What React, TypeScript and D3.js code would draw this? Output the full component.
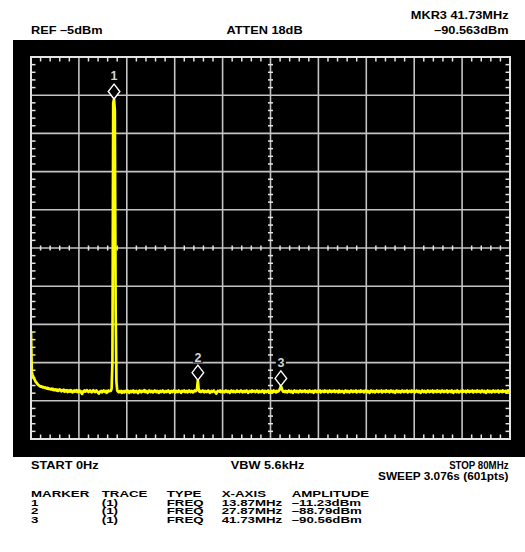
import * as d3 from 'd3';

// sweep settings
const START_MHZ = 0;
const STOP_MHZ = 80;
const REF_DBM = -5;
const DB_PER_DIV = 10;
const DIVS = 10;

// 601-point trace (dBm)
const TRACE_DBM = [
  -77.0, -87.5, -88.2, -88.8, -89.3, -89.6, -90.1, -90.3, -90.6, -90.8, -91.0, -91.1, -91.3, -91.2, -91.4, -91.5, -91.4, -91.6, -91.5, -91.7,
  -91.8, -91.6, -91.9, -91.8, -92.0, -92.0, -91.8, -92.1, -91.9, -92.2, -92.2, -92.0, -92.3, -92.1, -92.4, -92.2, -92.0, -92.3, -92.5, -92.2,
  -92.4, -92.1, -92.6, -92.3, -92.5, -92.2, -92.7, -92.4, -92.3, -92.6, -92.2, -92.5, -92.8, -92.4, -92.3, -92.6, -92.5, -92.2, -92.7, -92.4,
  -92.3, -92.6, -92.4, -92.9, -93.2, -92.7, -92.4, -92.3, -92.6, -92.5, -92.2, -92.4, -92.7, -92.5, -92.3, -92.6, -92.8, -92.4, -92.2, -92.5,
  -92.7, -92.4, -92.3, -92.6, -92.9, -93.1, -92.7, -92.5, -92.4, -92.8, -92.6, -92.3, -92.5, -92.7, -92.4, -92.9, -92.6, -92.3, -92.5, -92.4,
  -92.4, -91.8, -84.5, -17.0, -16.0, -19.0, -71.0, -90.0, -92.3, -92.6, -92.8, -92.5, -92.7, -92.4, -92.9, -92.6, -92.5, -92.8, -92.4, -92.6,
  -92.7, -92.3, -92.6, -92.9, -92.5, -92.4, -92.7, -92.6, -92.3, -92.8, -92.5, -92.7, -92.4, -92.6, -93.0, -92.5, -92.3, -92.6, -92.8, -92.4,
  -92.6, -92.5, -92.2, -92.7, -92.4, -92.6, -92.9, -92.5, -92.3, -92.6, -92.7, -92.4, -92.5, -92.8, -92.6, -92.3, -92.5, -92.7, -92.4, -92.6,
  -92.9, -92.5, -92.4, -92.7, -92.6, -92.3, -92.5, -92.8, -92.6, -92.4, -92.7, -92.5, -92.3, -92.6, -92.9, -92.5, -92.4, -92.7, -92.6, -92.3,
  -92.5, -92.8, -92.4, -92.6, -92.7, -92.3, -92.5, -92.6, -92.9, -92.4, -92.6, -92.5, -92.3, -92.7, -92.6, -92.4, -92.8, -92.5, -92.3, -92.6,
  -92.7, -92.4, -92.5, -92.8, -92.6, -92.3, -92.5, -92.4, -91.8, -89.6, -92.0, -92.6, -92.4, -92.7, -92.5, -92.3, -92.6, -92.8, -92.4, -92.5,
  -92.7, -92.6, -92.3, -92.5, -92.9, -92.6, -92.4, -92.7, -92.5, -92.3, -92.6, -92.8, -93.1, -92.7, -92.4, -92.5, -92.6, -92.3, -92.7, -92.5,
  -92.4, -92.6, -92.8, -92.5, -92.3, -92.6, -92.7, -92.4, -92.5, -92.9, -92.6, -92.3, -92.5, -92.7, -92.4, -92.6, -92.8, -92.5, -92.3, -92.6,
  -92.5, -92.7, -92.4, -92.3, -92.6, -92.8, -92.5, -92.4, -92.7, -92.6, -92.3, -92.5, -92.9, -92.6, -92.4, -92.5, -92.7, -92.3, -92.6, -92.5,
  -92.4, -92.7, -92.6, -92.3, -92.5, -92.8, -92.4, -92.6, -92.7, -92.5, -92.3, -92.6, -92.9, -92.4, -92.5, -92.7, -92.6, -92.3, -92.5, -92.8,
  -92.6, -92.4, -92.5, -92.7, -92.3, -92.6, -92.5, -92.8, -92.4, -92.6, -92.5, -92.2, -91.8, -91.1, -91.7, -92.3, -92.6, -92.5, -92.7, -92.4,
  -92.5, -92.8, -92.6, -92.3, -92.5, -92.7, -92.4, -92.6, -92.9, -92.5, -92.3, -92.6, -92.7, -92.4, -92.5, -92.8, -92.6, -92.3, -92.5, -92.7,
  -92.4, -92.6, -92.5, -92.3, -92.7, -92.6, -92.4, -92.8, -92.5, -92.3, -92.6, -92.7, -92.5, -92.4, -92.9, -92.6, -92.3, -92.5, -92.7, -92.4,
  -92.6, -92.5, -92.3, -92.8, -92.6, -92.4, -92.5, -92.7, -92.3, -92.6, -92.5, -92.4, -92.8, -92.6, -92.3, -92.5, -92.7, -92.4, -92.6, -92.5,
  -92.3, -92.7, -92.6, -92.4, -92.5, -92.8, -92.3, -92.6, -92.7, -92.5, -92.4, -92.6, -92.9, -92.5, -92.3, -92.6, -92.7, -92.4, -92.5, -92.8,
  -92.6, -92.3, -92.5, -92.7, -92.4, -92.6, -92.5, -92.3, -92.8, -92.6, -92.4, -92.5, -92.7, -92.3, -92.6, -92.5, -92.4, -92.8, -92.6, -92.3,
  -92.5, -92.7, -92.4, -92.6, -92.9, -92.5, -92.3, -92.6, -92.7, -92.4, -92.5, -92.8, -92.6, -92.3, -92.5, -92.7, -92.4, -92.6, -92.5, -92.3,
  -92.8, -92.6, -92.4, -92.5, -92.7, -92.3, -92.6, -92.5, -92.4, -92.8, -92.6, -92.3, -92.5, -92.7, -92.4, -92.6, -92.9, -92.5, -92.3, -92.6,
  -92.7, -92.4, -92.5, -92.8, -92.6, -92.3, -92.5, -92.7, -92.4, -92.6, -92.5, -92.3, -92.8, -92.6, -92.4, -92.5, -92.7, -92.3, -92.6, -92.5,
  -92.4, -92.8, -92.6, -92.3, -92.5, -92.7, -92.4, -92.6, -92.9, -92.5, -92.3, -92.6, -92.7, -92.4, -92.5, -92.8, -92.6, -92.3, -92.5, -92.7,
  -92.4, -92.6, -92.5, -92.3, -92.8, -92.6, -92.4, -92.5, -92.7, -92.3, -92.6, -92.5, -92.4, -92.8, -92.6, -92.3, -92.5, -92.7, -92.4, -92.6,
  -92.5, -92.3, -92.8, -92.6, -92.4, -92.5, -92.7, -92.3, -92.6, -92.9, -92.5, -92.4, -92.6, -92.7, -92.3, -92.5, -92.8, -92.6, -92.4, -92.5,
  -92.7, -92.3, -92.6, -92.5, -92.4, -92.8, -92.6, -92.3, -92.5, -92.7, -92.4, -92.6, -92.5, -92.3, -92.8, -92.6, -92.4, -92.5, -92.7, -92.3,
  -92.6, -92.5, -92.4, -92.8, -92.6, -92.3, -92.5, -92.7, -92.4, -92.6, -92.9, -92.5, -92.3, -92.6, -92.7, -92.4, -92.5, -92.8, -92.6, -92.3,
  -92.5, -92.7, -92.4, -92.6, -92.5, -92.3, -92.8, -92.6, -92.4, -92.5, -92.7, -92.3, -92.6, -92.5, -92.4, -92.8, -92.6, -92.3, -92.5, -92.2,
  -92.4,
];

// markers
const MARKER_IDS = [1, 2, 3];
const MARKER_FREQ_MHZ = [13.87, 27.87, 41.73];
const MARKER_AMPLITUDE = ['–11.23dBm', '–88.79dBm', '–90.56dBm'];

// annotation text
const TOP_LEFT = 'REF –5dBm';
const TOP_CENTER = 'ATTEN 18dB';
const TOP_RIGHT = ['MKR3 41.73MHz', '–90.563dBm'];
const BOTTOM_LEFT = 'START 0Hz';
const BOTTOM_CENTER = 'VBW 5.6kHz';
const BOTTOM_RIGHT = ['STOP 80MHz', 'SWEEP 3.076s (601pts)'];
const TABLE_HEADERS = ['MARKER', 'TRACE', 'TYPE', 'X-AXIS', 'AMPLITUDE'];

const W = 525;
const H = 552;
const PLOT = { l: 31, t: 57, r: 510, b: 439 };
const FONT = '"Liberation Sans", Arial, Helvetica, sans-serif';
const GRID = '#c4c4c4';
const FRAME = '#e4e4e4';

const x = d3.scaleLinear().domain([START_MHZ, STOP_MHZ]).range([PLOT.l, PLOT.r]);
const y = d3
  .scaleLinear()
  .domain([REF_DBM - DB_PER_DIV * DIVS, REF_DBM])
  .range([PLOT.b, PLOT.t]);

const n = TRACE_DBM.length;
const freqAt = (i: number) => START_MHZ + (i * (STOP_MHZ - START_MHZ)) / (n - 1);

const tracePath = d3
  .line<number>()
  .x((_, i) => x(freqAt(i)))
  .y(d => y(d))(TRACE_DBM) as string;

const xDiv = d3.range(DIVS + 1).map(k => START_MHZ + (k * (STOP_MHZ - START_MHZ)) / DIVS);
const yDiv = d3.range(DIVS + 1).map(k => REF_DBM - k * DB_PER_DIV);
const xMinor = d3
  .range(DIVS * 5 + 1)
  .filter(k => k % 5 !== 0)
  .map(k => START_MHZ + (k * (STOP_MHZ - START_MHZ)) / (DIVS * 5));
const yMinor = d3
  .range(DIVS * 5 + 1)
  .filter(k => k % 5 !== 0)
  .map(k => REF_DBM - (k * DB_PER_DIV) / 5);

const xMid = x((START_MHZ + STOP_MHZ) / 2);
const yMid = y(REF_DBM - (DB_PER_DIV * DIVS) / 2);

const Label = ({
  x: tx,
  y: ty,
  text,
  anchor = 'start',
  sx = 1.25,
  size = 10.2
}: {
  x: number;
  y: number;
  text: string;
  anchor?: 'start' | 'middle' | 'end';
  sx?: number;
  size?: number;
}) => (
  <text
    transform={`translate(${tx},${ty}) scale(${sx},1)`}
    textAnchor={anchor}
    fontFamily={FONT}
    fontWeight="bold"
    fontSize={size}
    fill="#000"
  >
    {text}
  </text>
);

const TABLE_X = [31, 101.7, 166.7, 221.7, 291.7];
const TABLE_Y = [497.3, 506, 514.3, 522.6];

export default function App() {
  const tick = 4.5;
  return (
    <svg
      width={W}
      height={H}
      style={{ position: 'absolute', left: 0, top: 0, display: 'block' }}
    >
      <defs>
        <clipPath id="plot-clip">
          <rect x={PLOT.l} y={PLOT.t - 20} width={PLOT.r - PLOT.l} height={PLOT.b - PLOT.t + 20} />
        </clipPath>
      </defs>
      <rect width={W} height={H} fill="#fff" />
      <rect x={13} y={40} width={W - 13} height={417} fill="#000" />

      {/* graticule */}
      {xDiv.map(v => (
        <line key={'gx' + v} x1={x(v)} x2={x(v)} y1={PLOT.t} y2={PLOT.b} stroke={GRID} strokeWidth={1.6} />
      ))}
      {yDiv.map(v => (
        <line key={'gy' + v} x1={PLOT.l} x2={PLOT.r} y1={y(v)} y2={y(v)} stroke={GRID} strokeWidth={1.6} />
      ))}

      {/* minor ticks on the frame and centre lines */}
      <g stroke={FRAME} strokeWidth={1.5}>
        {xMinor.map(v => (
          <g key={'tx' + v}>
            <line x1={x(v)} x2={x(v)} y1={PLOT.t} y2={PLOT.t + tick} />
            <line x1={x(v)} x2={x(v)} y1={PLOT.b} y2={PLOT.b - tick} />
            <line x1={x(v)} x2={x(v)} y1={yMid - 2.5} y2={yMid + 2.5} />
          </g>
        ))}
        {yMinor.map(v => (
          <g key={'ty' + v}>
            <line x1={PLOT.l} x2={PLOT.l + tick} y1={y(v)} y2={y(v)} />
            <line x1={PLOT.r} x2={PLOT.r - tick} y1={y(v)} y2={y(v)} />
            <line x1={xMid - 2.5} x2={xMid + 2.5} y1={y(v)} y2={y(v)} />
          </g>
        ))}
      </g>
      <rect
        x={PLOT.l}
        y={PLOT.t}
        width={PLOT.r - PLOT.l}
        height={PLOT.b - PLOT.t}
        fill="none"
        stroke={FRAME}
        strokeWidth={2}
      />

      {/* trace */}
      <path
        d={tracePath}
        fill="none"
        stroke="#ffff00"
        strokeWidth={2.7}
        strokeLinejoin="round"
        clipPath="url(#plot-clip)"
      />

      {/* markers */}
      {MARKER_IDS.map((id, k) => {
        const f = MARKER_FREQ_MHZ[k];
        const idx = Math.round(((f - START_MHZ) / (STOP_MHZ - START_MHZ)) * (n - 1));
        const mx = x(f);
        const yb = y(TRACE_DBM[idx]);
        const top = yb - 15;
        const base = top - 3.6;
        return (
          <g key={id}>
            <rect x={mx - 5} y={base - 9.5} width={10} height={10.5} fill="#000" />
            <text
              x={mx}
              y={base}
              textAnchor="middle"
              fontFamily={FONT}
              fontWeight="bold"
              fontSize={12.5}
              fill="#d4d4d4"
            >
              {id}
            </text>
            <path
              d={`M${mx},${yb} L${mx + 5.8},${yb - 7.5} L${mx},${top} L${mx - 5.8},${yb - 7.5} Z`}
              fill="#000"
              stroke="#fff"
              strokeWidth={1.4}
            />
          </g>
        );
      })}

      {/* header */}
      <Label x={31} y={34} text={TOP_LEFT} />
      <Label x={264.5} y={34} text={TOP_CENTER} anchor="middle" />
      <Label x={508.5} y={19.3} text={TOP_RIGHT[0]} anchor="end" />
      <Label x={508.5} y={34} text={TOP_RIGHT[1]} anchor="end" />

      {/* footer */}
      <Label x={31} y={469.3} text={BOTTOM_LEFT} />
      <Label x={267.5} y={469.3} text={BOTTOM_CENTER} anchor="middle" />
      <Label x={508.5} y={469.3} text={BOTTOM_RIGHT[0]} anchor="end" sx={0.95} />
      <Label x={508.5} y={479.5} text={BOTTOM_RIGHT[1]} anchor="end" sx={1.16} />

      {/* marker table */}
      {TABLE_HEADERS.map((h, c) => (
        <Label key={h} x={TABLE_X[c]} y={TABLE_Y[0]} text={h} sx={1.4} size={9.5} />
      ))}
      {MARKER_IDS.map((id, r) => {
        const cells = [
          String(id),
          '(1)',
          'FREQ',
          `${MARKER_FREQ_MHZ[r].toFixed(2)}MHz`,
          MARKER_AMPLITUDE[r]
        ];
        return cells.map((c, ci) => (
          <Label
            key={`${id}-${ci}`}
            x={TABLE_X[ci]}
            y={TABLE_Y[r + 1]}
            text={c}
            sx={1.4}
            size={9.5}
          />
        ));
      })}
    </svg>
  );
}
